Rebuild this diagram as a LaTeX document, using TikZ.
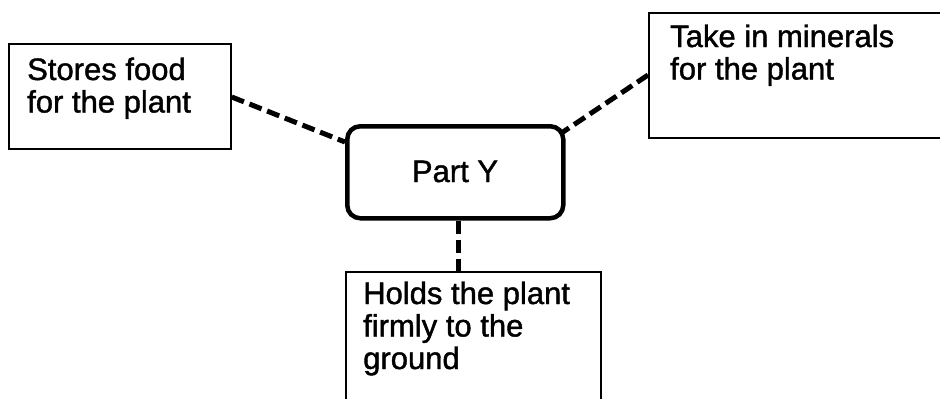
\documentclass[tikz,border=0pt]{standalone}
\usepackage{fontspec}
\setmainfont{Liberation Sans}[FakeBold=1.3]
\begin{document}
\begin{tikzpicture}[x=1pt,y=-1pt,
  box/.style={draw, line width=1.8pt, inner sep=0pt, anchor=north west},
  core/.style={draw, line width=4.5pt, rounded corners=13pt, inner sep=0pt, anchor=north west},
  conn/.style={line width=5pt, dash pattern=on 13pt off 6pt},
  txt/.style={font=\fontsize{31}{32.5}\selectfont, align=left, anchor=base west, inner sep=0pt}]
\clip (0,0) rectangle (940,399);
\fill[white] (0,0) rectangle (940,399);
\node[box, minimum width=222pt, minimum height=105pt] (L) at (8,43) {};
\node[box, minimum width=400pt, minimum height=125pt] (R) at (648,12) {};
\node[box, minimum width=255pt, minimum height=200pt] (B) at (345,271) {};
\node[core, minimum width=216pt, minimum height=92pt] (P) at (345,124) {};
\node[txt] (Lt) at (27,112.5) {Stores food\\for the plant};
\node[txt] (Rt) at (670,79.5) {Take in minerals\\for the plant};
\node[txt] (Bt) at (363,369) {Holds the plant\\firmly to the\\ground};
\node[txt, anchor=base] (Pt) at (455,182) {Part Y};
\draw[conn] (L.east |- 0,97) -- (P.west |- 0,142);
\draw[conn] (R.west |- 0,75) -- (563,132);
\draw[conn] (P.south -| 458,0) -- (B.north -| 458,0);
\end{tikzpicture}
\end{document}
